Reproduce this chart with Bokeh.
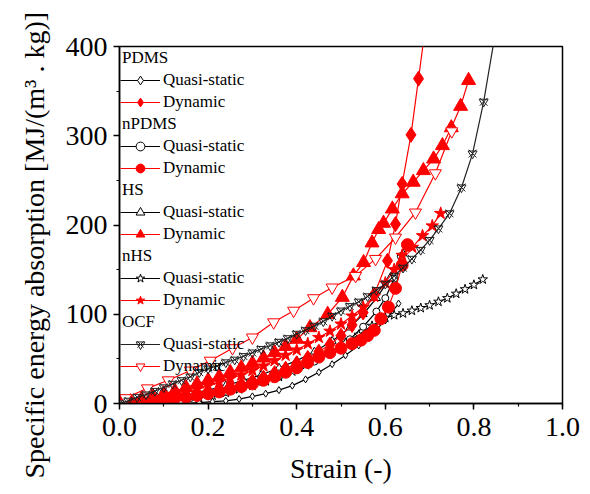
from bokeh.plotting import figure
from bokeh.models import Range1d, Legend, LegendItem, SingleIntervalTicker, PrintfTickFormatter, Title
from bokeh.core.properties import value
from bokeh.embed import file_html
from bokeh.resources import INLINE

# ---------------- data ----------------
groups = ["PDMS", "nPDMS", "HS", "nHS", "OCF"]
entry_labels = ["Quasi-static", "Dynamic"]
x_title = "Strain (-)"
y_title = "Specific energy absorption [MJ/(m\u00b3 . kg)]"

pdms_qs_x = [0.00, 0.03, 0.06, 0.09, 0.12, 0.15, 0.18, 0.21, 0.24, 0.27, 0.30, 0.33, 0.36,
             0.39, 0.42, 0.45, 0.48, 0.51, 0.54, 0.57, 0.60, 0.63]
pdms_qs_y = [0, 0, 0, 0, 0, 0, 1, 2, 3, 5, 8, 11, 15, 20, 27, 35, 44, 54, 65, 78, 93, 112]

npdms_qs_x = [0.00, 0.04, 0.08, 0.12, 0.16, 0.20, 0.24, 0.28, 0.32, 0.36, 0.40, 0.44, 0.48,
              0.52, 0.55, 0.58, 0.60, 0.62, 0.635]
npdms_qs_y = [0, 1, 2, 4, 6, 9, 13, 18, 24, 30, 38, 47, 58, 72, 86, 103, 118, 140, 165]

hs_qs_x = [0.00, 0.04, 0.08, 0.12, 0.16, 0.20, 0.24, 0.28, 0.32, 0.36, 0.40, 0.44, 0.48,
           0.52, 0.55, 0.58, 0.61, 0.64]
hs_qs_y = [0, 2, 4, 7, 11, 15, 20, 26, 32, 40, 48, 58, 70, 85, 100, 118, 140, 168]

nhs_qs_x = [0.00, 0.03, 0.06, 0.09, 0.12, 0.15, 0.18, 0.21, 0.24, 0.27, 0.30, 0.33, 0.36,
            0.39, 0.42, 0.45, 0.48, 0.51, 0.54, 0.57, 0.60, 0.62, 0.64, 0.66, 0.68, 0.70,
            0.72, 0.74, 0.76, 0.78, 0.80, 0.82]
nhs_qs_y = [0, 0, 1, 2, 3, 4, 6, 9, 12, 16, 20, 25, 30, 36, 43, 51, 59, 68, 77, 87, 96,
            99, 101, 104, 107, 110, 114, 118, 123, 128, 133, 139]

ocf_qs_x = [0.00, 0.02, 0.04, 0.06, 0.08, 0.10, 0.12, 0.14, 0.16, 0.18, 0.20, 0.22, 0.24,
            0.26, 0.28, 0.30, 0.32, 0.34, 0.36, 0.38, 0.40, 0.42, 0.44, 0.46, 0.48, 0.50,
            0.52, 0.54, 0.56, 0.58, 0.60, 0.62, 0.64, 0.66, 0.68, 0.70, 0.72, 0.745, 0.772,
            0.797, 0.822, 0.85]
ocf_qs_y = [0, 3, 7, 10, 14, 18, 22, 26, 30, 35, 39, 42, 46, 49, 53, 57, 61, 65, 69, 73,
            78, 82, 87, 92, 98, 104, 109, 114, 120, 127, 134, 143, 152, 162, 172, 183, 196,
            213, 242, 280, 338, 420]

pdms_dyn_x = [0.00, 0.025, 0.05, 0.075, 0.10, 0.125, 0.15, 0.175, 0.20, 0.225, 0.25, 0.275,
              0.30, 0.325, 0.35, 0.375, 0.40, 0.425, 0.45, 0.475, 0.50, 0.525, 0.55, 0.575,
              0.605, 0.623, 0.638, 0.658, 0.675, 0.69]
pdms_dyn_y = [0, 1, 2, 3, 5, 6, 8, 10, 12, 15, 18, 21, 25, 29, 34, 39, 45, 51, 58, 66, 76,
              88, 102, 122, 160, 201, 246, 301, 364, 420]

npdms_dyn_x = [0.00, 0.025, 0.05, 0.075, 0.10, 0.125, 0.15, 0.175, 0.20, 0.225, 0.25, 0.275,
               0.30, 0.325, 0.35, 0.375, 0.40, 0.425, 0.45, 0.475, 0.50, 0.525, 0.545, 0.56,
               0.575, 0.59, 0.607, 0.623, 0.638, 0.65]
npdms_dyn_y = [0, 1, 2, 3, 4, 6, 7, 9, 11, 13, 16, 19, 22, 26, 30, 35, 40, 46, 52, 57, 62,
               67, 71, 76, 82, 95, 108, 129, 155, 178]

hs_dyn_x = [0.00, 0.025, 0.05, 0.075, 0.10, 0.125, 0.15, 0.175, 0.20, 0.225, 0.25, 0.275,
            0.30, 0.325, 0.35, 0.375, 0.40, 0.43, 0.47, 0.503, 0.528, 0.551, 0.57, 0.585,
            0.596, 0.616, 0.638, 0.663, 0.686, 0.709, 0.729, 0.749, 0.77, 0.788]
hs_dyn_y = [0, 2, 5, 8, 11, 14, 18, 22, 26, 30, 35, 40, 45, 51, 57, 64, 72, 85, 100, 119,
            143, 158, 180, 195, 202, 218, 235, 248, 261, 274, 289, 309, 333, 362]

nhs_dyn_x = [0.00, 0.025, 0.05, 0.075, 0.10, 0.125, 0.15, 0.175, 0.20, 0.225, 0.25, 0.275,
             0.30, 0.325, 0.35, 0.375, 0.40, 0.425, 0.45, 0.475, 0.50, 0.525, 0.55, 0.575,
             0.60, 0.62, 0.638, 0.661, 0.684, 0.706, 0.725]
nhs_dyn_y = [0, 1, 3, 5, 7, 10, 13, 16, 20, 24, 28, 32, 37, 42, 48, 54, 60, 67, 74, 81, 89,
             98, 108, 120, 135, 150, 166, 175, 188, 199, 213]

ocf_dyn_x = [0.00, 0.014, 0.063, 0.11, 0.16, 0.205, 0.255, 0.30, 0.348, 0.393, 0.438, 0.48,
             0.533, 0.578, 0.623, 0.668, 0.713, 0.75]
ocf_dyn_y = [0, 6, 17, 26, 37, 48, 62, 74, 91, 104, 118, 130, 143, 162, 186, 214, 258, 305]

FONT = "Liberation Serif"
BLACK = "#000000"
RED = "#ff0000"

p = figure(width=584, height=488, x_range=Range1d(0, 1), y_range=Range1d(0, 400),
           output_backend="svg", toolbar_location=None,
           min_border_left=119, min_border_right=22, min_border_top=46, min_border_bottom=85)
p.xgrid.visible = False
p.ygrid.visible = False
p.outline_line_color = "black"
p.outline_line_width = 1.5
p.background_fill_color = "white"

p.xaxis.ticker = SingleIntervalTicker(interval=0.2, num_minor_ticks=2)
p.yaxis.ticker = SingleIntervalTicker(interval=100, num_minor_ticks=2)
p.xaxis.formatter = PrintfTickFormatter(format="%.1f")
p.yaxis.formatter = PrintfTickFormatter(format="%d")
p.xaxis.axis_label = x_title
for ax in (p.xaxis, p.yaxis):
    ax.axis_line_width = 1.5
    ax.major_tick_line_width = 1.5
    ax.minor_tick_line_width = 1.2
    ax.major_tick_out = 6
    ax.major_tick_in = 0
    ax.minor_tick_out = 3
    ax.minor_tick_in = 0
    ax.major_label_text_font = FONT
    ax.major_label_text_font_size = "28px"
    ax.major_label_text_color = "black"
    ax.axis_label_text_font = FONT
    ax.axis_label_text_font_size = "28px"
    ax.axis_label_text_font_style = "normal"
    ax.axis_label_text_color = "black"
p.xaxis.major_label_standoff = 8
p.yaxis.major_label_standoff = 6
p.xaxis.axis_label_standoff = 14

# y-axis title as a side-panel title, shifted down along the axis
p.add_layout(Title(text=y_title, align="left", offset=-75, standoff=25,
                   text_font=FONT, text_font_size="28px", text_font_style="normal",
                   text_color="black"), "left")

def series(xs, ys, color, marker, size, filled, extra=None):
    rs = [p.line(xs, ys, line_color=color, line_width=1.2)]
    kw = dict(marker=marker, size=size, line_color=color, line_width=1.0)
    if filled:
        kw.update(fill_color=color)
    else:
        kw.update(fill_color="white")
    rs.append(p.scatter(xs, ys, **kw))
    if extra:
        for m, s in extra:
            rs.append(p.scatter(xs, ys, marker=m, size=s, line_color=color,
                                fill_alpha=0, line_width=1.0))
    return rs

r_pdms_qs = series(pdms_qs_x, pdms_qs_y, BLACK, "diamond", 7, False)
r_npdms_qs = series(npdms_qs_x, npdms_qs_y, BLACK, "circle", 7, False)
r_hs_qs = series(hs_qs_x, hs_qs_y, BLACK, "triangle", 8, False)
r_nhs_qs = series(nhs_qs_x, nhs_qs_y, BLACK, "star", 10, False)
r_pdms_dyn = series(pdms_dyn_x, pdms_dyn_y, RED, "diamond", 15, True)
r_npdms_dyn = series(npdms_dyn_x, npdms_dyn_y, RED, "circle", 12, True)
r_hs_dyn = series(hs_dyn_x, hs_dyn_y, RED, "triangle", 14, True)
r_nhs_dyn = series(nhs_dyn_x, nhs_dyn_y, RED, "star", 13, True)
r_ocf_dyn = series(ocf_dyn_x, ocf_dyn_y, RED, "inverted_triangle", 12, False)
r_ocf_qs = series(ocf_qs_x, ocf_qs_y, "#222222", "x", 11, False,
                  extra=[("inverted_triangle", 9)])

dummy = p.line(x=[], y=[], line_alpha=0)

entries = [
    (r_pdms_qs, r_pdms_dyn),
    (r_npdms_qs, r_npdms_dyn),
    (r_hs_qs, r_hs_dyn),
    (r_nhs_qs, r_nhs_dyn),
    (r_ocf_qs, r_ocf_dyn),
]

hdr_items = []
ent_items = []
for g, (qs, dyn) in zip(groups, entries):
    hdr_items.append(LegendItem(label=value(g), renderers=[dummy]))
    ent_items.append(LegendItem(label=value(""), renderers=[dummy]))
    for lab, rs in zip(entry_labels, (qs, dyn)):
        hdr_items.append(LegendItem(label=value(""), renderers=[dummy]))
        ent_items.append(LegendItem(label=value(lab), renderers=rs))

def make_legend(items, gw, standoff):
    return Legend(items=items, location="top_left", orientation="vertical",
                  glyph_width=gw, glyph_height=22, label_height=22, spacing=0,
                  label_standoff=standoff, padding=1, margin=0,
                  label_text_font=FONT, label_text_font_size="17px",
                  label_text_color="black",
                  background_fill_alpha=0, border_line_alpha=0)

p.add_layout(make_legend(hdr_items, 0, 2))
p.add_layout(make_legend(ent_items, 40, 3))

open("out.html", "w").write(file_html(p, INLINE))
